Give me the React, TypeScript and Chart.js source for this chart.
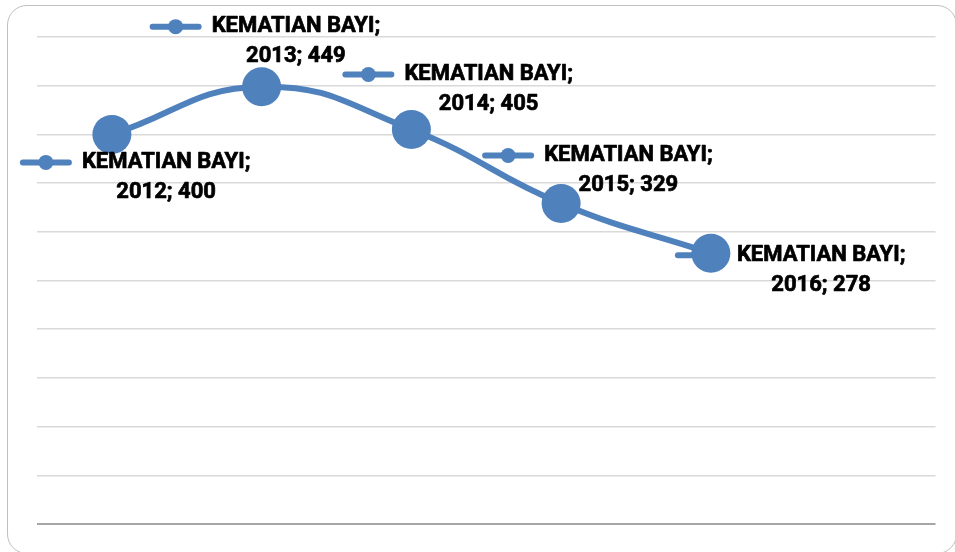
import React, { useEffect, useRef } from "react";
import { Chart, registerables } from "chart.js";

Chart.register(...registerables);

const seriesName = "KEMATIAN BAYI";
const years = [2012, 2013, 2014, 2015, 2016];
const deaths = [400, 449, 405, 329, 278];
const yTicksMax = 500;
const yTickStep = 50;

// label placement relative to each point (key start x offset, first line y offset)
const labelOffsets = [
  [-92, 28],
  [-112, -60],
  [-69, -55],
  [-79, -48],
  [-36, 2],
];

const BLUE = "#4f81bd";
const FONT = "bold 22px Roboto, 'Liberation Sans', sans-serif";

const labelPlugin = {
  id: "excelLabels",
  beforeDatasetsDraw(chart: any) {
    const ctx = chart.ctx;
    const meta = chart.getDatasetMeta(0);
    ctx.save();
    meta.data.forEach((pt: any, i: number) => {
      const [dx, dy] = labelOffsets[i];
      const kx = pt.x + dx;
      const ky = pt.y + dy;
      ctx.strokeStyle = BLUE;
      ctx.lineWidth = 6;
      ctx.lineCap = "round";
      ctx.beginPath();
      ctx.moveTo(kx + 3, ky);
      ctx.lineTo(kx + 49, ky);
      ctx.stroke();
      ctx.fillStyle = BLUE;
      ctx.beginPath();
      ctx.arc(kx + 26, ky, 7.5, 0, Math.PI * 2);
      ctx.fill();
    });
    ctx.restore();
  },
  afterDatasetsDraw(chart: any) {
    const ctx = chart.ctx;
    const meta = chart.getDatasetMeta(0);
    ctx.save();
    ctx.font = FONT;
    ctx.fillStyle = "#000";
    ctx.strokeStyle = "#000";
    ctx.lineWidth = 0.7;
    ctx.lineJoin = "round";
    ctx.textBaseline = "middle";
    meta.data.forEach((pt: any, i: number) => {
      const [dx, dy] = labelOffsets[i];
      const tx = pt.x + dx + 62;
      const ty = pt.y + dy;
      const line1 = seriesName + ";";
      const line2 = years[i] + "; " + deaths[i];
      const w1 = ctx.measureText(line1).width;
      ctx.textAlign = "left";
      ctx.fillText(line1, tx, ty);
      ctx.strokeText(line1, tx, ty);
      ctx.textAlign = "center";
      ctx.fillText(line2, tx + w1 / 2, ty + 30);
      ctx.strokeText(line2, tx + w1 / 2, ty + 30);
    });
    ctx.restore();
  },
};

export default function App() {
  const ref = useRef<HTMLCanvasElement>(null);
  useEffect(() => {
    document.body.style.margin = "0";
    const chart = new Chart(ref.current!, {
      type: "line",
      data: {
        datasets: [
          {
            label: seriesName,
            data: years.map((y, i) => ({ x: y, y: deaths[i] })),
            borderColor: BLUE,
            backgroundColor: BLUE,
            borderWidth: 6,
            pointRadius: 19.5,
            pointBorderWidth: 0,
            pointBackgroundColor: BLUE,
            tension: 0.45,
          },
        ],
      },
      options: {
        animation: false,
        responsive: false,
        layout: { padding: { left: 37, right: 17, top: 37, bottom: 28 } },
        plugins: { legend: { display: false }, tooltip: { enabled: false } },
        scales: {
          x: {
            type: "linear",
            min: years[0] - 0.5,
            max: years[years.length - 1] + 1.5,
            display: false,
          },
          y: {
            min: 0,
            max: yTicksMax,
            ticks: { display: false, stepSize: yTickStep },
            border: { display: false },
            grid: {
              drawTicks: false,
              color: (c: any) => (c.tick && c.tick.value === 0 ? "#a6a6a6" : "#d9d9d9"),
              lineWidth: (c: any) => (c.tick && c.tick.value === 0 ? 2 : 1.5),
            },
          },
        },
      },
      plugins: [labelPlugin],
    });
    return () => chart.destroy();
  }, []);
  return (
    <div style={{ position: "fixed", left: 0, top: 0, width: 955, height: 552, overflow: "hidden", background: "#fff" }}>
      <div
        style={{
          position: "absolute",
          left: 7,
          top: 5,
          width: 950,
          height: 549,
          border: "1.5px solid #bfbfbf",
          borderRadius: 20,
          boxSizing: "border-box",
        }}
      />
      <canvas ref={ref} width={955} height={552} style={{ position: "absolute", left: 0, top: 0 }} />
    </div>
  );
}
